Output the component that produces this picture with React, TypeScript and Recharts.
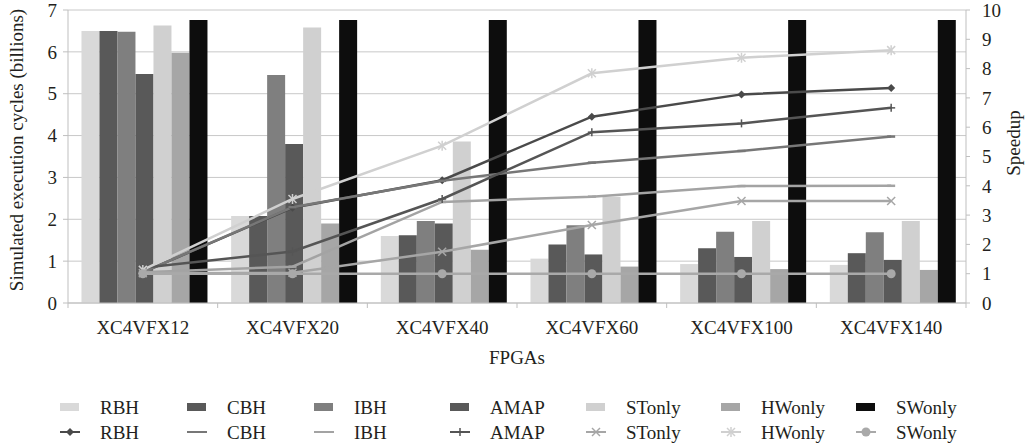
import React from 'react';
import { ComposedChart, Bar, Line, XAxis, YAxis, CartesianGrid, Legend } from 'recharts';

const categories = ['XC4VFX12', 'XC4VFX20', 'XC4VFX40', 'XC4VFX60', 'XC4VFX100', 'XC4VFX140'];

// Simulated execution cycles (billions) — bars, left axis
const cyclesRBH = [6.5, 2.08, 1.6, 1.06, 0.93, 0.91];
const cyclesCBH = [6.5, 2.08, 1.62, 1.4, 1.31, 1.19];
const cyclesIBH = [6.48, 5.45, 1.96, 1.86, 1.7, 1.69];
const cyclesAMAP = [5.47, 3.8, 1.9, 1.16, 1.1, 1.03];
const cyclesSTonly = [6.63, 6.58, 3.86, 2.54, 1.96, 1.96];
const cyclesHWonly = [5.98, 1.9, 1.27, 0.87, 0.81, 0.79];
const cyclesSWonly = [6.76, 6.76, 6.76, 6.76, 6.76, 6.76];

// Speedup — lines, right axis
const speedupRBH = [1.05, 3.25, 4.19, 6.36, 7.12, 7.34];
const speedupCBH = [1.05, 3.27, 4.17, 4.79, 5.19, 5.68];
const speedupIBH = [1.05, 1.24, 3.45, 3.63, 3.99, 4.0];
const speedupAMAP = [1.2, 1.76, 3.55, 5.83, 6.13, 6.66];
const speedupSTonly = [1.02, 1.03, 1.75, 2.66, 3.48, 3.48];
const speedupHWonly = [1.13, 3.55, 5.37, 7.84, 8.37, 8.63];
const speedupSWonly = [1, 1, 1, 1, 1, 1];

const leftTicks = [0, 1, 2, 3, 4, 5, 6, 7];
const rightTicks = [0, 1, 2, 3, 4, 5, 6, 7, 8, 9, 10];

const data = categories.map((name, i) => ({
  name,
  cRBH: cyclesRBH[i],
  cCBH: cyclesCBH[i],
  cIBH: cyclesIBH[i],
  cAMAP: cyclesAMAP[i],
  cSTonly: cyclesSTonly[i],
  cHWonly: cyclesHWonly[i],
  cSWonly: cyclesSWonly[i],
  sRBH: speedupRBH[i],
  sCBH: speedupCBH[i],
  sIBH: speedupIBH[i],
  sAMAP: speedupAMAP[i],
  sSTonly: speedupSTonly[i],
  sHWonly: speedupHWonly[i],
  sSWonly: speedupSWonly[i],
}));

const FONT = '"Liberation Serif", "DejaVu Serif", serif';
const TEXT = '#231f20';
const AXIS = '#bfbfbf';

const barSeries = [
  { key: 'cRBH', name: 'RBH', color: '#d9d9d9' },
  { key: 'cCBH', name: 'CBH', color: '#595959' },
  { key: 'cIBH', name: 'IBH', color: '#7f7f7f' },
  { key: 'cAMAP', name: 'AMAP', color: '#595959' },
  { key: 'cSTonly', name: 'STonly', color: '#d0d0d0' },
  { key: 'cHWonly', name: 'HWonly', color: '#a6a6a6' },
  { key: 'cSWonly', name: 'SWonly', color: '#0d0d0d' },
];

const lineSeries = [
  { key: 'sRBH', name: 'RBH', color: '#4a4a4a', marker: 'diamond' },
  { key: 'sCBH', name: 'CBH', color: '#777777', marker: 'dash' },
  { key: 'sIBH', name: 'IBH', color: '#a3a3a3', marker: 'dash' },
  { key: 'sAMAP', name: 'AMAP', color: '#555555', marker: 'plus' },
  { key: 'sSTonly', name: 'STonly', color: '#a6a6a6', marker: 'x' },
  { key: 'sHWonly', name: 'HWonly', color: '#d0d0d0', marker: 'star' },
  { key: 'sSWonly', name: 'SWonly', color: '#a9a9a9', marker: 'circle' },
];

function markerShape(type: string, cx: number, cy: number, color: string, key?: any) {
  const s = 4;
  switch (type) {
    case 'diamond':
      return <path key={key} d={`M${cx} ${cy - s}L${cx + s} ${cy}L${cx} ${cy + s}L${cx - s} ${cy}Z`} fill={color} />;
    case 'plus':
      return (
        <g key={key} stroke={color} strokeWidth={1.5}>
          <line x1={cx - s} y1={cy} x2={cx + s} y2={cy} />
          <line x1={cx} y1={cy - s} x2={cx} y2={cy + s} />
        </g>
      );
    case 'x':
      return (
        <g key={key} stroke={color} strokeWidth={1.5}>
          <line x1={cx - s} y1={cy - s} x2={cx + s} y2={cy + s} />
          <line x1={cx - s} y1={cy + s} x2={cx + s} y2={cy - s} />
        </g>
      );
    case 'star':
      return (
        <g key={key} stroke={color} strokeWidth={1.5}>
          <line x1={cx - s} y1={cy - s} x2={cx + s} y2={cy + s} />
          <line x1={cx - s} y1={cy + s} x2={cx + s} y2={cy - s} />
          <line x1={cx} y1={cy - s - 1} x2={cx} y2={cy + s + 1} />
        </g>
      );
    case 'circle':
      return <circle key={key} cx={cx} cy={cy} r={4.5} fill={color} />;
    case 'dash':
    default:
      return <line key={key} x1={cx - s} y1={cy} x2={cx + s} y2={cy} stroke={color} strokeWidth={2.5} />;
  }
}

const legendX = [60, 187, 314, 450, 586, 721, 856];

function LegendContent() {
  return (
    <svg width={1026} height={52} style={{ display: 'block' }}>
      {barSeries.map((s, i) => (
        <g key={'b' + s.key}>
          <rect x={legendX[i]} y={10} width={19} height={8} fill={s.color} />
          <text x={legendX[i] + 40} y={20.5} fontFamily={FONT} fontSize={19} fill={TEXT}>
            {s.name}
          </text>
        </g>
      ))}
      {lineSeries.map((s, i) => (
        <g key={'l' + s.key}>
          <line x1={legendX[i]} y1={39} x2={legendX[i] + 20} y2={39} stroke={s.color} strokeWidth={2} />
          {s.marker !== 'dash' ? markerShape(s.marker, legendX[i] + 10, 39, s.color) : null}
          <text x={legendX[i] + 40} y={45.5} fontFamily={FONT} fontSize={19} fill={TEXT}>
            {s.name}
          </text>
        </g>
      ))}
    </svg>
  );
}

function XTick(props: any) {
  const { x, y, payload, index, visibleTicksCount } = props;
  const plotW = typeof props.width === 'number' ? props.width : 898;
  const count = visibleTicksCount || categories.length;
  const half = plotW / count / 2;
  return (
    <g>
      <line x1={x - half} y1={y} x2={x - half} y2={y + 5} stroke={AXIS} />
      {index === count - 1 ? <line x1={x + half} y1={y} x2={x + half} y2={y + 5} stroke={AXIS} /> : null}
      <text x={x} y={y + 30.5} textAnchor="middle" fontFamily={FONT} fontSize={19} fill={TEXT}>
        {payload.value}
      </text>
    </g>
  );
}

export default function App() {
  return (
    <div style={{ position: 'absolute', left: 0, top: 0, width: 1026, height: 448, background: '#fff' }}>
      <ComposedChart
        width={1026}
        height={448}
        data={data}
        margin={{ top: 10, right: 0, left: 0, bottom: 0 }}
        barCategoryGap="9%"
        barGap={0}
      >
        <CartesianGrid yAxisId="left" vertical={false} stroke="#c8c8c8" strokeWidth={1} />
        <XAxis
          dataKey="name"
          height={93}
          tickSize={0}
          tickMargin={0}
          tickLine={false}
          axisLine={{ stroke: AXIS }}
          tick={<XTick />}
          interval={0}
          label={{
            content: (p: any) => {
              const vb = p.viewBox || {};
              return (
                <text x={vb.x + vb.width / 2} y={vb.y + 61} textAnchor="middle" fontFamily={FONT} fontSize={19} fill={TEXT}>
                  FPGAs
                </text>
              );
            },
          }}
        />
        <YAxis
          yAxisId="left"
          orientation="left"
          width={68}
          domain={[0, 7]}
          ticks={leftTicks}
          interval={0}
          tickSize={5}
          tickMargin={6}
          axisLine={{ stroke: AXIS }}
          tickLine={{ stroke: AXIS }}
          tick={{ fontFamily: FONT, fontSize: 19, fill: TEXT }}
          label={{
            content: () => (
              <text x={23} y={150} transform="rotate(-90 23 150)" textAnchor="middle" fontFamily={FONT} fontSize={19} fill={TEXT}>
                Simulated execution cycles (billions)
              </text>
            ),
          }}
        />
        <YAxis
          yAxisId="right"
          orientation="right"
          width={60}
          domain={[0, 10]}
          ticks={rightTicks}
          interval={0}
          tickSize={4}
          tickMargin={12}
          axisLine={{ stroke: AXIS }}
          tickLine={{ stroke: AXIS }}
          tick={{ fontFamily: FONT, fontSize: 19, fill: TEXT, textAnchor: 'start' }}
          label={{
            content: () => (
              <text x={1020} y={143} transform="rotate(-90 1020 143)" textAnchor="middle" fontFamily={FONT} fontSize={19} fill={TEXT}>
                Speedup
              </text>
            ),
          }}
        />
        {barSeries.map((s) => (
          <Bar key={s.key} yAxisId="left" dataKey={s.key} name={s.name} fill={s.color} isAnimationActive={false} />
        ))}
        {lineSeries.map((s) => (
          <Line
            key={s.key}
            yAxisId="right"
            dataKey={s.key}
            name={s.name}
            stroke={s.color}
            strokeWidth={2.5}
            type="linear"
            isAnimationActive={false}
            activeDot={false}
            dot={(p: any) => markerShape(s.marker, p.cx, p.cy, s.color, `${s.key}-${p.index}`)}
          />
        ))}
        <Legend
          verticalAlign="bottom"
          content={<LegendContent />}
          wrapperStyle={{ left: 0, top: 393, width: 1026, height: 52 }}
        />
      </ComposedChart>
    </div>
  );
}
